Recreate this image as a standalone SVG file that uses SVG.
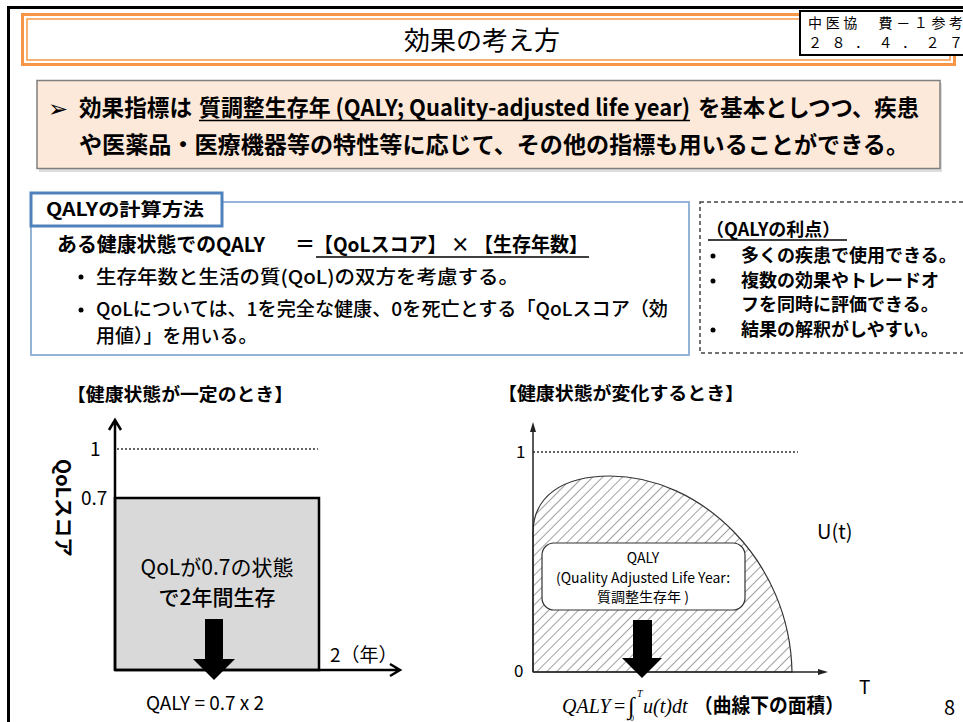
<svg xmlns="http://www.w3.org/2000/svg" width="963" height="722" viewBox="0 0 963 722">
<style>
.jp{font-family:"Noto Sans CJK JP","Noto Sans",sans-serif;fill:#000}
.b{font-weight:700}
.m{font-weight:500}
.ser{font-family:"Liberation Serif","Noto Sans CJK JP",serif;fill:#000}
.ax{stroke:#000;stroke-width:2.5;fill:none}
.axt{stroke:#222;stroke-width:1.5;fill:none}
.dot{stroke:#333;stroke-width:1.5;stroke-dasharray:2 2;fill:none}
</style>
<defs>
<pattern id="hatch" patternUnits="userSpaceOnUse" width="7" height="7" patternTransform="rotate(45)">
<line x1="0" y1="0" x2="0" y2="7" stroke="#444" stroke-width="1"/>
</pattern>
</defs>
<rect width="963" height="722" fill="#fff"/>
<path d="M8.5,722 V7.5 H963" fill="none" stroke="#000" stroke-width="3"/>

<g id="title">
<rect x="22.5" y="14.5" width="932" height="50" fill="none" stroke="#F79646" stroke-width="3"/>
<rect x="27" y="19" width="923" height="41" fill="none" stroke="#F79646" stroke-width="1.5"/>
<text x="482" y="50" text-anchor="middle" class="jp" font-size="26">効果の考え方</text>
</g>

<g id="docref">
<rect x="800" y="11" width="170" height="44" fill="#fff" stroke="#000" stroke-width="2"/>
<text x="808" y="28" class="ser" font-size="14" textLength="155">中医協　費－１参考</text>
<text x="808" y="48" class="ser" font-size="14" textLength="155">２８．４．２７</text>
</g>

<g id="summary">
<rect x="39" y="83" width="903" height="89" fill="#bbb" opacity="0.5"/>
<rect x="37" y="80.5" width="903" height="88" fill="#FDE9D9" stroke="#7F7F7F" stroke-width="1.5"/>
<text x="48" y="117" font-family="DejaVu Sans,sans-serif" font-size="24">➢</text>
<text x="79" y="116" class="jp b" font-size="23" textLength="113" lengthAdjust="spacingAndGlyphs">効果指標は</text>
<text x="199" y="116" class="jp b" font-size="23" textLength="491" lengthAdjust="spacingAndGlyphs">質調整生存年 (QALY; Quality-adjusted life year)</text>
<line x1="199" y1="120.5" x2="690" y2="120.5" stroke="#000" stroke-width="1.5"/>
<text x="698" y="116" class="jp b" font-size="23" textLength="221" lengthAdjust="spacingAndGlyphs">を基本としつつ、疾患</text>
<text x="79" y="153" class="jp b" font-size="23" textLength="830" lengthAdjust="spacingAndGlyphs">や医薬品・医療機器等の特性等に応じて、その他の指標も用いることができる。</text>
</g>

<g id="calc">
<rect x="31" y="202" width="658" height="153" fill="#fff" stroke="#95B3D7" stroke-width="2"/>
<rect x="31" y="193" width="191" height="33" fill="#fff" stroke="#4F81BD" stroke-width="3"/>
<text x="46" y="216" class="jp b" font-size="18" textLength="158" lengthAdjust="spacingAndGlyphs">QALYの計算方法</text>
<text x="57" y="252" class="jp b" font-size="20" textLength="208" lengthAdjust="spacingAndGlyphs">ある健康状態でのQALY</text>
<text x="295" y="252" class="jp b" font-size="20">＝</text>
<text x="314" y="252" class="jp b" font-size="20" textLength="274" lengthAdjust="spacingAndGlyphs">【QoLスコア】 × 【生存年数】</text>
<line x1="316" y1="257" x2="589" y2="257" stroke="#000" stroke-width="1.5"/>
<circle cx="81" cy="277" r="2.5" fill="#000"/>
<text x="96" y="284" class="jp m" font-size="19" textLength="423" lengthAdjust="spacingAndGlyphs">生存年数と生活の質(QoL)の双方を考慮する。</text>
<circle cx="81" cy="310" r="2.5" fill="#000"/>
<text x="96" y="316" class="jp m" font-size="19" textLength="572" lengthAdjust="spacingAndGlyphs">QoLについては、1を完全な健康、0を死亡とする「QoLスコア（効</text>
<text x="96" y="343" class="jp m" font-size="19">用値）」を用いる。</text>
</g>

<g id="merits">
<rect x="700" y="202" width="270" height="151" fill="#fff" stroke="#444" stroke-width="1.5" stroke-dasharray="4 3"/>
<text x="706" y="236" class="jp b" font-size="18">（QALYの利点）</text>
<line x1="708" y1="240" x2="847" y2="240" stroke="#000" stroke-width="1.5"/>
<circle cx="713" cy="256" r="2.5" fill="#000"/>
<text x="741" y="262" class="jp b" font-size="18">多くの疾患で使用できる。</text>
<circle cx="713" cy="281" r="2.5" fill="#000"/>
<text x="741" y="287" class="jp b" font-size="18">複数の効果やトレードオ</text>
<text x="741" y="311" class="jp b" font-size="18">フを同時に評価できる。</text>
<circle cx="713" cy="330" r="2.5" fill="#000"/>
<text x="741" y="336" class="jp b" font-size="18">結果の解釈がしやすい。</text>
</g>

<g id="chart-constant">
<text x="67" y="401" class="jp b" font-size="18" textLength="226" lengthAdjust="spacingAndGlyphs">【健康状態が一定のとき】</text>
<rect x="115" y="498" width="204" height="172" fill="#D9D9D9" stroke="#000" stroke-width="2.5"/>
<line x1="117" y1="449" x2="318" y2="449" class="dot"/>
<text x="90" y="456" class="jp" font-size="19">1</text>
<text x="81" y="505" class="jp" font-size="19">0.7</text>
<text transform="translate(56,459) rotate(90)" class="jp b" font-size="20" textLength="98" lengthAdjust="spacingAndGlyphs">QoLスコア</text>
<text x="217" y="575" text-anchor="middle" class="jp" font-size="21" fill="#222">QoLが0.7の状態</text>
<text x="217" y="605" text-anchor="middle" class="jp m" font-size="21" fill="#222">で2年間生存</text>
<text x="330" y="662" class="jp" font-size="19">2（年）</text>
<text x="205" y="710" text-anchor="middle" class="jp" font-size="19">QALY = 0.7 x 2</text>
</g>

<g id="chart-change">
<text x="498" y="400" class="jp b" font-size="18" textLength="246" lengthAdjust="spacingAndGlyphs">【健康状態が変化するとき】</text>
<line x1="533" y1="452" x2="798" y2="452" class="dot"/>
<path d="M533,672 V533 C533,496 563,476 610,476 C700,476 790,560 792,672 Z" fill="url(#hatch)" stroke="#333" stroke-width="1.2"/>
<text x="516" y="458" class="jp" font-size="17" fill="#333">1</text>
<text x="514" y="677" class="jp" font-size="17" fill="#333">0</text>
<rect x="542" y="543" width="203" height="67" rx="12" fill="#fff" stroke="#333" stroke-width="1.2"/>
<text x="643" y="563" text-anchor="middle" class="jp" font-size="14" fill="#333">QALY</text>
<text x="643" y="583" text-anchor="middle" class="jp" font-size="14" fill="#333">(Quality Adjusted Life Year:</text>
<text x="643" y="602" text-anchor="middle" class="jp" font-size="14" fill="#333">質調整生存年 )</text>
<text x="817" y="539" class="jp" font-size="20">U(t)</text>
<text x="859" y="694" class="jp" font-size="19">T</text>
<text x="562" y="713" class="ser" font-size="20" font-style="italic">QALY</text>
<text x="614" y="713" class="ser" font-size="20">=</text>
<text x="628" y="714" class="ser" font-size="24" font-style="italic">∫</text>
<text x="637" y="697" class="ser" font-size="10" font-style="italic">T</text>
<text x="630" y="721" class="ser" font-size="8">0</text>
<text x="643" y="713" class="ser" font-size="20" font-style="italic">u(t)dt</text>
<text x="694" y="713" class="jp b" font-size="20" textLength="150" lengthAdjust="spacingAndGlyphs">（曲線下の面積）</text>
<text x="944" y="715" class="jp" font-size="20" fill="#333">8</text>
</g>

<g id="connectors">
<path d="M115,670 V420 M109,430 L115,420 L121,430" class="ax"/>
<path d="M115,670 H400 M390,664 L400,670 L390,676" class="ax"/>
<polygon points="205,619 223,619 223,659 235,659 214,680 193,659 205,659" fill="#000"/>
<path d="M533,672 V428" class="axt"/>
<polygon points="533,422 530,432 536,432" fill="#222"/>
<path d="M533,672 H822" class="axt"/>
<polygon points="828,672 818,669 818,675" fill="#222"/>
<polygon points="633,620 652,620 652,658 662,658 642,678 622,658 633,658" fill="#000"/>
</g>
</svg>
